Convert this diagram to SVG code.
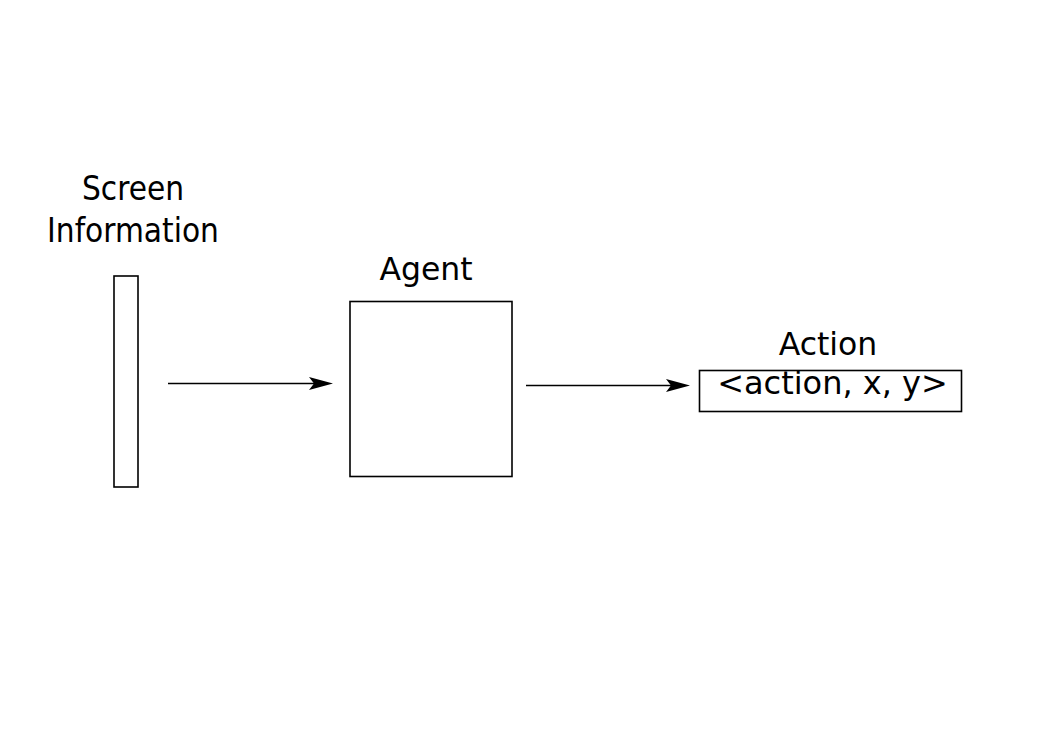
<svg xmlns="http://www.w3.org/2000/svg" width="1052" height="744" viewBox="0 0 1052 744">
<style>
.box{fill:#fff;stroke:#000;stroke-width:1.6}
.t{font-family:"DejaVu Sans",sans-serif;font-size:31.5px;fill:#000;text-anchor:middle}
.s{font-family:"DejaVu Sans Condensed","DejaVu Sans",sans-serif;font-stretch:condensed;font-size:33px;fill:#000;text-anchor:middle}
.c{stroke:#000;stroke-width:1.6;fill:none}
.h{fill:#000;stroke:none}
</style>
<rect width="1052" height="744" fill="#fff"/>
<g id="screen">
<rect class="box" x="114" y="276" width="24" height="211"/>
<text class="s" x="133" y="200">Screen</text>
<text class="s" x="133" y="242">Information</text>
</g>
<g id="agent">
<rect class="box" x="350" y="301.5" width="162" height="175"/>
<text class="t" x="426" y="280">Agent</text>
</g>
<g id="action">
<rect class="box" x="699.5" y="370.5" width="262" height="41"/>
<text class="t" x="828" y="355">Action</text>
<text class="t" x="832.5" y="394" style="font-size:32px">&lt;action, x, y&gt;</text>
</g>
<g id="connectors">
<line class="c" x1="168" y1="383.5" x2="318" y2="383.5"/>
<path class="h" d="M333,383.5 L309,377 L314,383.5 L309,390 Z"/>
<line class="c" x1="526" y1="385.5" x2="675" y2="385.5"/>
<path class="h" d="M690,385.5 L666,379 L671,385.5 L666,392 Z"/>
</g>
</svg>
